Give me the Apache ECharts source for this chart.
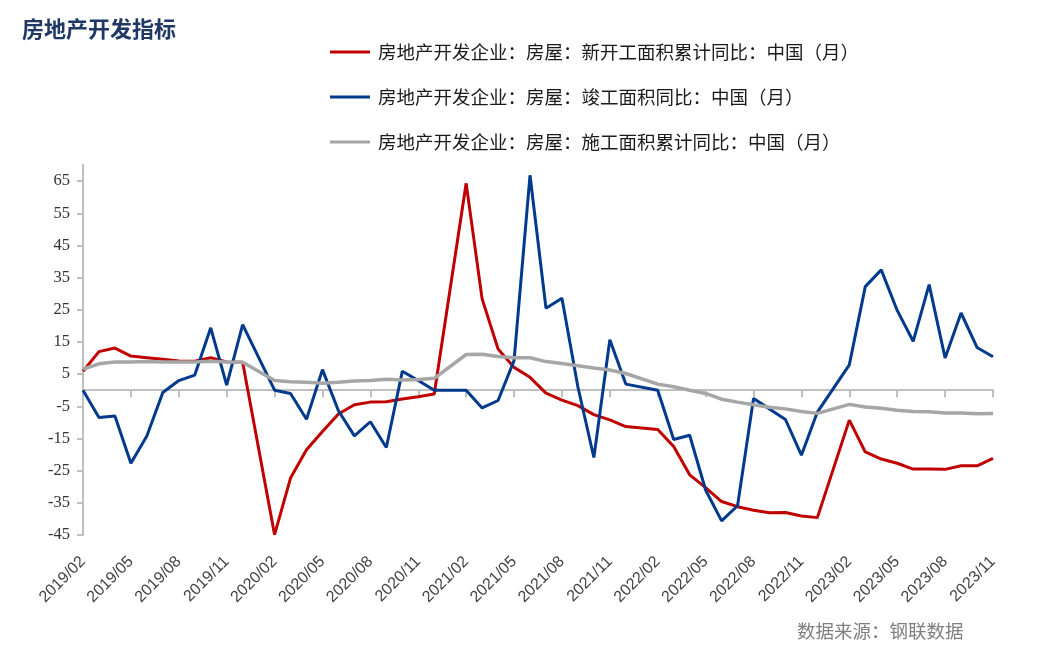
<!DOCTYPE html>
<html>
<head>
<meta charset="utf-8">
<script src="https://cdn.jsdelivr.net/npm/echarts@6/dist/echarts.min.js"></script>
<style>
html,body{margin:0;padding:0;background:#fff;}
#c{width:1044px;height:662px;}
</style>
</head>
<body>
<div id="c"></div>
<script>
var months = [
 '2019/02','2019/03','2019/04','2019/05','2019/06','2019/07','2019/08','2019/09','2019/10','2019/11','2019/12',
 '2020/01','2020/02','2020/03','2020/04','2020/05','2020/06','2020/07','2020/08','2020/09','2020/10','2020/11','2020/12',
 '2021/01','2021/02','2021/03','2021/04','2021/05','2021/06','2021/07','2021/08','2021/09','2021/10','2021/11','2021/12',
 '2022/01','2022/02','2022/03','2022/04','2022/05','2022/06','2022/07','2022/08','2022/09','2022/10','2022/11','2022/12',
 '2023/01','2023/02','2023/03','2023/04','2023/05','2023/06','2023/07','2023/08','2023/09','2023/10','2023/11'
];
var newStartYoY = [
 5.9,12.0,13.1,10.6,10.1,9.6,9.1,9.0,10.1,8.8,8.7,
 null,-44.9,-27.3,-18.5,-12.8,-7.4,-4.5,-3.7,-3.6,-2.7,-2.0,-1.2,
 null,64.3,28.4,12.8,7.1,4.0,-0.9,-3.1,-4.8,-7.6,-9.2,-11.3,
 null,-12.2,-17.5,-26.3,-30.3,-34.6,-36.2,-37.3,-38.1,-38.0,-39.1,-39.6,
 null,-9.3,-19.2,-21.4,-22.7,-24.5,-24.5,-24.6,-23.5,-23.5,-21.2
];
var completedYoY = [
 0.0,-8.5,-8.0,-22.7,-14.2,-0.7,3.0,4.7,19.4,1.6,20.4,
 null,0.0,-1.0,-9.0,6.4,-6.4,-14.2,-9.8,-17.8,5.9,3.0,0.0,
 null,0.0,-5.5,-3.2,9.2,66.8,25.5,28.6,1.0,-20.9,15.7,1.9,
 null,0.0,-15.3,-14.0,-31.0,-40.6,-35.9,-2.6,-5.8,-9.1,-20.2,-6.8,
 null,7.9,32.2,37.4,24.8,15.2,32.8,10.0,24.0,13.3,10.4
];
var underConstrYoY = [
 6.6,8.2,8.8,8.8,8.9,8.8,8.8,8.8,9.0,8.8,8.7,
 null,3.0,2.6,2.5,2.2,2.5,2.9,3.0,3.4,3.2,3.3,3.7,
 null,11.1,11.2,10.5,10.1,10.1,8.9,8.3,7.6,6.9,6.3,5.2,
 null,1.9,1.1,0.0,-1.0,-2.8,-3.7,-4.5,-5.3,-5.8,-6.6,-7.2,
 null,-4.4,-5.2,-5.6,-6.2,-6.6,-6.7,-7.1,-7.1,-7.3,-7.2
];
var yTicks = [-45,-35,-25,-15,-5,5,15,25,35,45,55,65];
var seriesNames = [
 '房地产开发企业：房屋：新开工面积累计同比：中国（月）',
 '房地产开发企业：房屋：竣工面积同比：中国（月）',
 '房地产开发企业：房屋：施工面积累计同比：中国（月）'
];
var colors = ['#C00000','#003A8C','#A6A6A6'];

var chart = echarts.init(document.getElementById('c'), null, {renderer:'canvas'});
var cjk = '"Noto Sans CJK SC", "Noto Sans", sans-serif';
function legendAt(idx, top){
  return {
    data:[seriesNames[idx]], left:330, top:top, padding:0,
    icon:'rect', itemWidth:40, itemHeight:3,
    textStyle:{fontFamily:cjk, fontSize:18.5, color:'#1a1a1a', lineHeight:20, padding:[0,0,0,3]}
  };
}
chart.setOption({
  animation:false,
  color:colors,
  title:[
    {text:'房地产开发指标', left:22, top:18, padding:0,
     textStyle:{fontFamily:cjk, fontSize:22, fontWeight:'bold', color:'#1F3864'}},
    {text:'数据来源：钢联数据', left:797, top:622, padding:0,
     textStyle:{fontFamily:cjk, fontSize:18.5, fontWeight:'normal', color:'#7f7f7f'}}
  ],
  legend:[legendAt(0,42), legendAt(1,87), legendAt(2,132)],
  grid:{left:83, right:51, top:165, bottom:127, containLabel:false},
  xAxis:[
    {type:'category', data:months, boundaryGap:false,
     axisLine:{onZero:true, lineStyle:{color:'#BFBFBF', width:2}},
     axisTick:{show:true, interval:function(i){return i%3===0;}, length:7, lineStyle:{color:'#BFBFBF', width:2}},
     axisLabel:{show:false}, splitLine:{show:false}},
    {type:'category', data:months, boundaryGap:false, position:'bottom',
     axisLine:{show:false, onZero:false}, axisTick:{show:false},
     axisLabel:{show:true, interval:2, rotate:45, margin:24,
       fontFamily:'"Liberation Sans", Arial, sans-serif', fontSize:16, color:'#404040'},
     splitLine:{show:false}}
  ],
  yAxis:{type:'value', min:-45, max:70,
    axisLine:{show:true, lineStyle:{color:'#BFBFBF', width:2}},
    axisTick:{show:true, length:6, customValues:yTicks, lineStyle:{color:'#BFBFBF', width:2}},
    axisLabel:{customValues:yTicks, margin:13, fontFamily:'"Liberation Serif", "Times New Roman", serif', fontSize:16.5, color:'#333'},
    splitLine:{show:false}},
  series:[
    {name:seriesNames[0], type:'line', data:newStartYoY, connectNulls:true, showSymbol:false, symbol:'none',
     lineStyle:{width:3, color:colors[0]}, itemStyle:{color:colors[0]}},
    {name:seriesNames[1], type:'line', data:completedYoY, connectNulls:true, showSymbol:false, symbol:'none',
     lineStyle:{width:3, color:colors[1]}, itemStyle:{color:colors[1]}},
    {name:seriesNames[2], type:'line', data:underConstrYoY, connectNulls:true, showSymbol:false, symbol:'none',
     lineStyle:{width:3.5, color:colors[2]}, itemStyle:{color:colors[2]}}
  ]
});
</script>
</body>
</html>
